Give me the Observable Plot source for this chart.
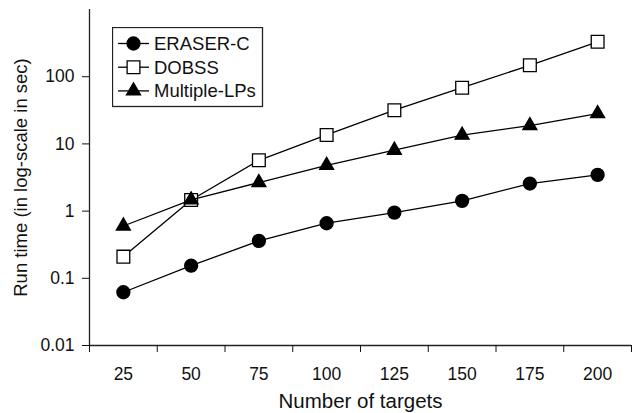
<!DOCTYPE html>
<html><head><meta charset="utf-8">
<script src="https://cdn.jsdelivr.net/npm/d3@7"></script>
<script src="https://cdn.jsdelivr.net/npm/@observablehq/plot@0.6"></script>
<style>
body{margin:0;background:#fff}
#wrap{position:relative;width:634px;height:413px;font-family:"Liberation Sans",Arial,sans-serif}
#legend{position:absolute;left:112px;top:27px}
</style>
</head><body><div id="wrap"></div>
<script>
const targets = [25, 50, 75, 100, 125, 150, 175, 200];
const eraserC = [0.062, 0.154, 0.36, 0.66, 0.95, 1.42, 2.57, 3.46];
const dobss = [0.21, 1.46, 5.7, 13.6, 31.7, 68.7, 148, 331];
const multipleLPs = [0.6, 1.47, 2.66, 4.8, 8.05, 13.5, 18.7, 28.2];
const seriesNames = ["ERASER-C", "DOBSS", "Multiple-LPs"];
const yTicks = [0.01, 0.1, 1, 10, 100];
const xTickBoundaries = [12.5, 37.5, 62.5, 87.5, 112.5, 137.5, 162.5, 187.5, 212.5];

const seriesValues = [eraserC, dobss, multipleLPs];
const symbols = ["circle", "square", "triangle"];
const fills = ["black", "white", "black"];
const sizes = [6.5, 7.2, 5.2];

const rows = [];
seriesNames.forEach((name, i) => {
  targets.forEach((t, j) => rows.push({series: name, targets: t, value: seriesValues[i][j]}));
});

const marks = [
  Plot.ruleY([0.01], {stroke: "#222", strokeWidth: 1.3}),
  Plot.ruleX([12.5], {stroke: "#222", strokeWidth: 1.3}),
  Plot.axisY({ticks: yTicks, tickFormat: d => String(d), tickSize: 7, tickPadding: 8, fontSize: 17.5, label: null}),
  Plot.axisY({ticks: [], label: "Run time (in log-scale in sec)", labelAnchor: "center", labelArrow: "none", labelOffset: 76, fontSize: 18.5}),
  Plot.axisX({ticks: xTickBoundaries, tickFormat: () => "", tickSize: 7, label: null}),
  Plot.axisX({ticks: targets, tickFormat: d => String(d), tickSize: 0, tickPadding: 22, fontSize: 17.5, label: null}),
  Plot.axisX({ticks: [], label: "Number of targets", labelAnchor: "center", labelArrow: "none", labelOffset: 62, fontSize: 20.5})
];
seriesNames.forEach((name, i) => {
  const data = rows.filter(r => r.series === name);
  marks.push(Plot.line(data, {x: "targets", y: "value", stroke: "black", strokeWidth: 1.3}));
  marks.push(Plot.dot(data, {x: "targets", y: "value", symbol: () => symbols[i], r: sizes[i],
    fill: fills[i], stroke: "black", strokeWidth: 1.3}));
});

const chart = Plot.plot({
  width: 634, height: 413,
  marginLeft: 89, marginRight: 3, marginTop: 9, marginBottom: 68,
  style: {fontSize: "17.5px", fontFamily: '"Liberation Sans", Arial, sans-serif', color: "#111", background: "white"},
  x: {type: "linear", domain: [12.5, 212.5]},
  y: {type: "log", domain: [0.01, 1000]},
  symbol: {type: "identity"},
  marks
});
document.getElementById("wrap").appendChild(chart);

// Legend
const lg = d3.select("#wrap").append("svg").attr("id", "legend")
  .attr("width", 152).attr("height", 81);
lg.append("rect").attr("x", 0.5).attr("y", 0.5).attr("width", 150).attr("height", 79)
  .attr("fill", "white").attr("stroke", "#222").attr("stroke-width", 1.3);
const d3sym = {circle: d3.symbolCircle, square: d3.symbolSquare, triangle: d3.symbolTriangle};
seriesNames.forEach((name, i) => {
  const g = lg.append("g").attr("transform", `translate(0,${16.5 + i * 23.7})`);
  g.append("line").attr("x1", 6).attr("x2", 37).attr("y1", 0).attr("y2", 0)
    .attr("stroke", "black").attr("stroke-width", 1.3);
  g.append("path").attr("transform", "translate(21.5,0)")
    .attr("d", d3.symbol(d3sym[symbols[i]], Math.PI * sizes[i] * sizes[i])())
    .attr("fill", fills[i]).attr("stroke", "black").attr("stroke-width", 1.3);
  g.append("text").attr("x", 42).attr("y", 0).attr("dy", "0.35em")
    .attr("font-size", 18.5).attr("fill", "#111").text(name);
});
</script>
</body></html>
